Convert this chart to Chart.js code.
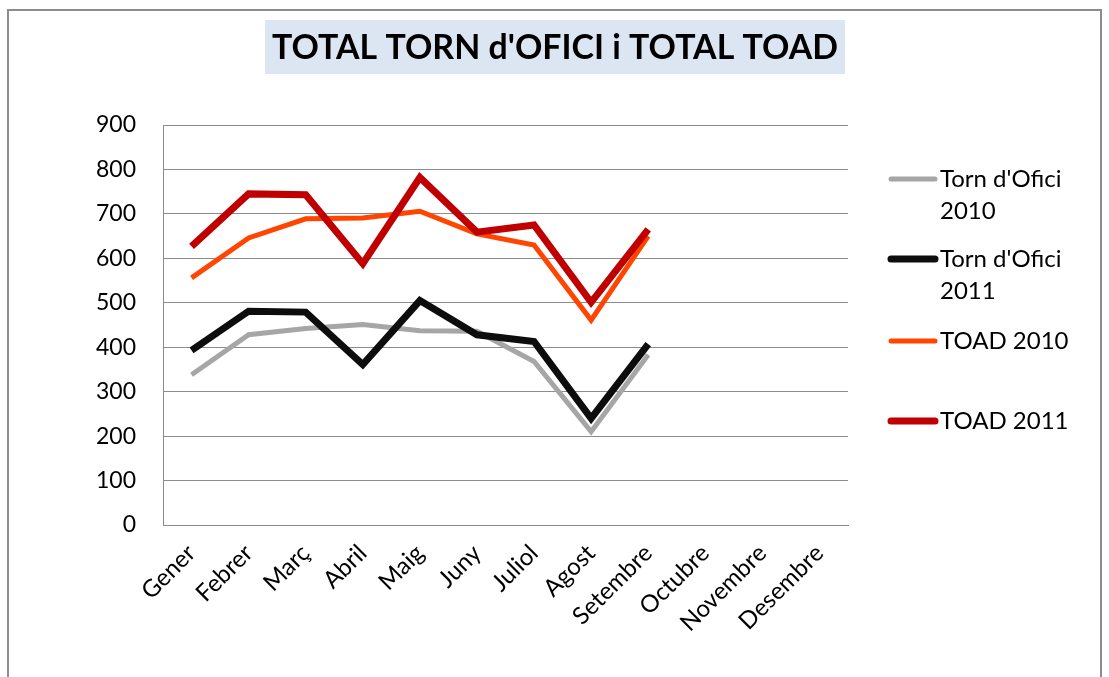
<!DOCTYPE html>
<html>
<head>
<meta charset="utf-8">
<script src="https://cdn.jsdelivr.net/npm/chart.js@4.4.0/dist/chart.umd.min.js"></script>
<style>
  html, body { margin: 0; padding: 0; background: #fff; }
  #wrap { width: 1109px; height: 677px; }
</style>
</head>
<body>
<div id="wrap"><canvas id="chart" width="1109" height="677"></canvas></div>
<script>
/* ---------- data ---------- */
const months = ["Gener", "Febrer", "Març", "Abril", "Maig", "Juny", "Juliol", "Agost", "Setembre", "Octubre", "Novembre", "Desembre"];
const tornOfici2010 = [338, 428, 442, 451, 437, 436, 368, 210, 383, null, null, null];
const tornOfici2011 = [393, 481, 479, 361, 505, 428, 413, 240, 407, null, null, null];
const toad2010 = [556, 646, 689, 691, 706, 655, 630, 461, 650, null, null, null];
const toad2011 = [627, 745, 743, 588, 782, 659, 675, 501, 665, null, null, null];
const legendLabels = [["Torn d'Ofici", "2010"], ["Torn d'Ofici", "2011"], ["TOAD 2010"], ["TOAD 2011"]];
const yTicks = [0, 100, 200, 300, 400, 500, 600, 700, 800, 900];
const titleText = "TOTAL TORN d'OFICI i TOTAL TOAD";

const FONT = "Lato, 'Open Sans', sans-serif";

/* ---------- frame + title box ---------- */
const framePlugin = {
  id: "frame",
  beforeDraw(chart) {
    const ctx = chart.ctx;
    ctx.save();
    ctx.fillStyle = "#fff";
    ctx.fillRect(0, 0, chart.width, chart.height);
    ctx.strokeStyle = "#8c8c8c";
    ctx.lineWidth = 2;
    ctx.strokeRect(8, 10, 1093, 700);
    // title box
    ctx.fillStyle = "#dce6f2";
    ctx.fillRect(265, 20, 580, 54);
    ctx.fillStyle = "#000";
    ctx.font = "bold 34px " + FONT;
    ctx.textAlign = "center";
    ctx.textBaseline = "middle";
    const w = ctx.measureText(titleText).width;
    const sx = 566 / w;
    ctx.translate(555, 48);
    ctx.scale(sx, 1);
    ctx.fillText(titleText, 0, 0);
    ctx.restore();
  }
};

/* ---------- legend (right side) ---------- */
const legendPlugin = {
  id: "sideLegend",
  afterDraw(chart) {
    const ctx = chart.ctx;
    const rows = [179, 259, 341, 421];
    ctx.save();
    ctx.font = "24px " + FONT;
    ctx.textBaseline = "middle";
    ctx.textAlign = "left";
    chart.data.datasets.forEach((ds, i) => {
      const y = rows[i];
      ctx.strokeStyle = ds.borderColor;
      ctx.lineWidth = ds.borderWidth;
      ctx.lineCap = "round";
      ctx.beginPath();
      ctx.moveTo(891, y);
      ctx.lineTo(935, y);
      ctx.stroke();
      ctx.fillStyle = "#000";
      legendLabels[i].forEach((line, k) => ctx.fillText(line, 940, y + k * 32));
    });
    ctx.restore();
  }
};

const ctx = document.getElementById("chart");
new Chart(ctx, {
  type: "line",
  data: {
    labels: months,
    datasets: [
      { label: "Torn d'Ofici 2010", data: tornOfici2010, borderColor: "#a6a6a6", borderWidth: 5, order: 3 },
      { label: "Torn d'Ofici 2011", data: tornOfici2011, borderColor: "#0d0d0d", borderWidth: 7, order: 1 },
      { label: "TOAD 2010", data: toad2010, borderColor: "#ff4500", borderWidth: 5, order: 2 },
      { label: "TOAD 2011", data: toad2011, borderColor: "#c00000", borderWidth: 7, order: 0 }
    ]
  },
  options: {
    responsive: false,
    animation: false,
    devicePixelRatio: 1,
    elements: {
      point: { radius: 0, hoverRadius: 0 },
      line: { tension: 0, fill: false }
    },
    layout: { padding: { left: 0, top: 125, right: 261, bottom: 0 } },
    plugins: {
      legend: { display: false },
      title: { display: false },
      tooltip: { enabled: false }
    },
    scales: {
      x: {
        offset: true,
        grid: { display: false, drawTicks: false },
        border: { color: "#8c8c8c", width: 1 },
        ticks: {
          color: "#000",
          font: { family: FONT, size: 24 },
          maxRotation: 45,
          minRotation: 45,
          autoSkip: false,
          padding: 14
        },
        afterFit(scale) { scale.height = 152; }
      },
      y: {
        min: 0,
        max: 900,
        afterBuildTicks(scale) { scale.ticks = yTicks.map(v => ({ value: v })); },
        grid: { color: "#8c8c8c", lineWidth: 1, drawTicks: false },
        border: { color: "#8c8c8c", width: 1 },
        ticks: {
          color: "#000",
          font: { family: FONT, size: 23 },
          padding: 27
        },
        afterFit(scale) { scale.width = 163; }
      }
    }
  },
  plugins: [framePlugin, legendPlugin]
});
</script>
</body>
</html>
